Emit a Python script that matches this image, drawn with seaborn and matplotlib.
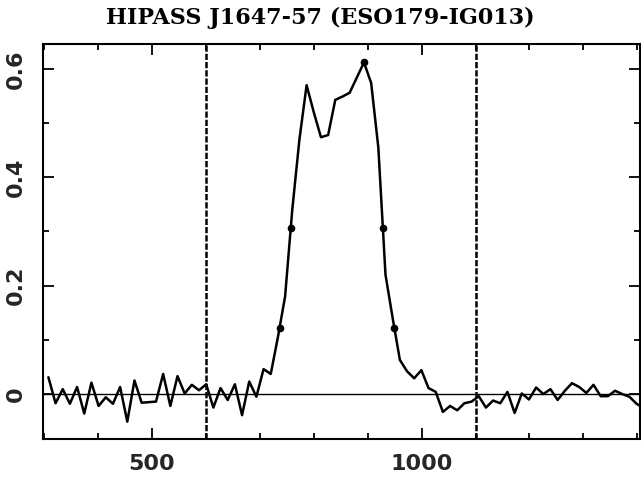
"""
HIPASS spectrum of J1647-57 (ESO179-IG013)
"""

import matplotlib
matplotlib.use('Agg')
import matplotlib.pyplot as plt
from matplotlib.ticker import MultipleLocator, FixedLocator, FixedFormatter
import seaborn as sns
import numpy as np
import pandas as pd

# Données
title = 'HIPASS J1647-57 (ESO179-IG013)'
v_start = 308.0       # km/s, premier canal
v_step = 13.3         # km/s, largeur de canal
flux = [
    0.031, -0.017, 0.009, -0.018, 0.013, -0.036, 0.021, -0.022, -0.006, -0.018,
    0.013, -0.051, 0.025, -0.016, -0.015, -0.014, 0.037, -0.022, 0.033, 0.001,
    0.017, 0.007, 0.018, -0.025, 0.011, -0.011, 0.018, -0.039, 0.023, -0.005,
    0.046, 0.037, 0.105, 0.180, 0.340, 0.470, 0.570, 0.520, 0.474, 0.478,
    0.543, 0.549, 0.556, 0.584, 0.612, 0.574, 0.455, 0.220, 0.140, 0.063,
    0.042, 0.029, 0.044, 0.011, 0.004, -0.033, -0.022, -0.030, -0.017, -0.014,
    -0.004, -0.025, -0.012, -0.017, 0.004, -0.035, 0.001, -0.010, 0.012, 0.000,
    0.009, -0.011, 0.006, 0.020, 0.013, 0.002, 0.017, -0.004, -0.004, 0.006,
    0.000, -0.005, -0.018, -0.026,
]
window = [600, 1100]          # limites de la fenêtre d'intégration
width_levels = [0.2, 0.5]     # niveaux W20 / W50 (fraction du pic)
xlim = (298, 1405)
ylim = (-0.083, 0.646)
xticks = [500, 1000]
xtick_labels = ['500', '1000']
yticks = [0, 0.2, 0.4, 0.6]
ytick_labels = ['0', '0.2', '0.4', '0.6']

velocity = v_start + v_step * np.arange(len(flux))
df = pd.DataFrame({'velocity': velocity, 'flux': flux})

# Points des largeurs W20 / W50 et du pic
f = df['flux'].to_numpy()
v = df['velocity'].to_numpy()
ipk = int(np.argmax(f))
peak = f[ipk]
mark_v, mark_f = [v[ipk]], [peak]
for lev in width_levels:
    level = lev * peak
    il = ipk
    while f[il - 1] > level:
        il -= 1
    mark_v.append(np.interp(level, [f[il - 1], f[il]], [v[il - 1], v[il]]))
    mark_f.append(level)
    ir = ipk
    while f[ir + 1] > level:
        ir += 1
    mark_v.append(np.interp(level, [f[ir + 1], f[ir]], [v[ir + 1], v[ir]]))
    mark_f.append(level)

# Style
sns.set_theme(style='ticks')
plt.rcParams['font.family'] = ['DejaVu Sans']

fig = plt.figure(figsize=(6.41, 4.79), dpi=100)
ax = fig.add_axes([43 / 641, 40 / 479, 597 / 641, 395 / 479])

ax.axhline(0, color='black', linewidth=1.0, zorder=1)
for w in window:
    ax.axvline(w, color='black', linewidth=1.8, linestyle=(0, (2.5, 0.8)), zorder=2)

sns.lineplot(data=df, x='velocity', y='flux', color='black', linewidth=1.8,
             sort=False, estimator=None, ax=ax, zorder=3)
ax.plot(mark_v, mark_f, 'o', color='black', markersize=4.5, zorder=4)

ax.set_xlim(*xlim)
ax.set_ylim(*ylim)
ax.set_xlabel('')
ax.set_ylabel('')

ax.xaxis.set_major_locator(FixedLocator(xticks))
ax.xaxis.set_major_formatter(FixedFormatter(xtick_labels))
ax.xaxis.set_minor_locator(MultipleLocator(100))
ax.yaxis.set_major_locator(FixedLocator(yticks))
ax.yaxis.set_major_formatter(FixedFormatter(ytick_labels))
ax.yaxis.set_minor_locator(MultipleLocator(0.1))

ax.tick_params(which='both', direction='in', top=True, right=True,
               color='black', width=1.3)
ax.tick_params(which='major', length=8)
ax.tick_params(which='minor', length=4)
ax.tick_params(axis='x', which='major', labelsize=16, pad=11)
ax.tick_params(axis='y', which='major', labelsize=16, pad=12)
plt.setp(ax.get_yticklabels(), rotation=90, va='center')
plt.setp(ax.get_xticklabels() + ax.get_yticklabels(), fontweight='bold')

for s in ax.spines.values():
    s.set_linewidth(1.5)
    s.set_color('black')

fig.text(320 / 641, 1 - 18 / 479, title, ha='center', va='center',
         fontsize=16, fontweight='bold', family=['DejaVu Serif'], color='black')

plt.savefig('out.png', dpi=100, facecolor='white')
plt.close()
